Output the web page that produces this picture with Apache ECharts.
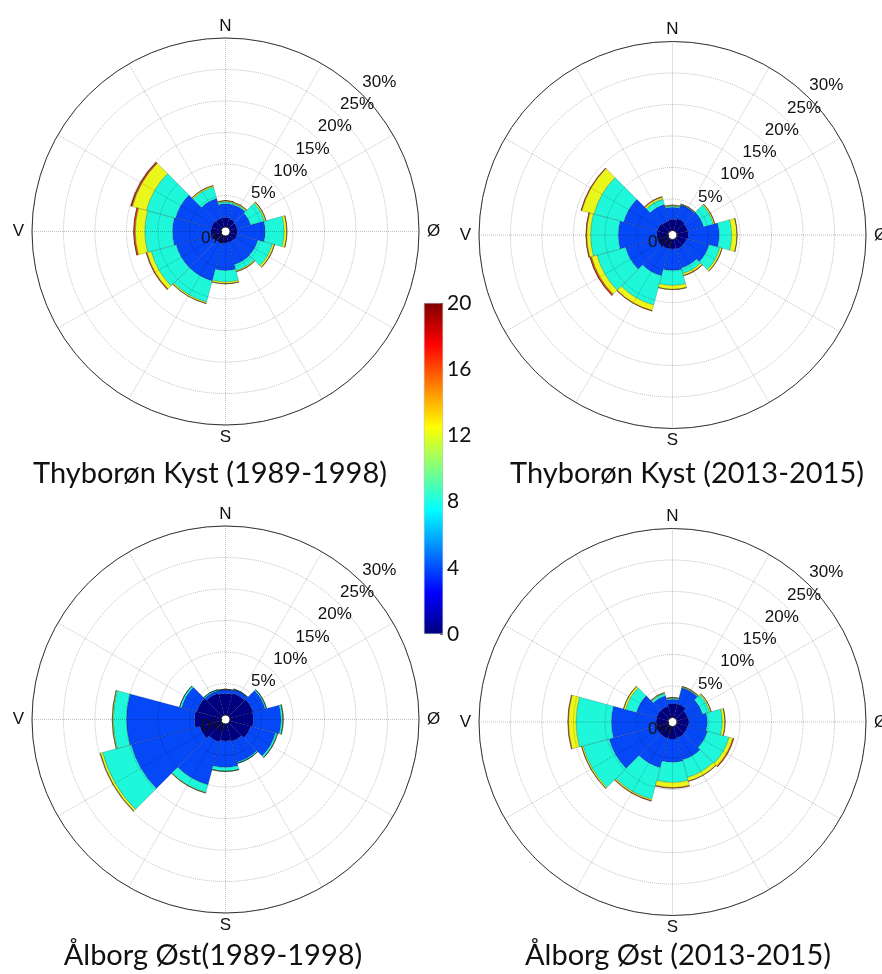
<!DOCTYPE html>
<html><head><meta charset="utf-8">
<script src="https://cdn.jsdelivr.net/npm/echarts@6/dist/echarts.min.js"></script>
<style>html,body{margin:0;padding:0;background:#fff}#c{width:882px;height:974px}</style>
</head><body><div id="c"></div>
<script>
// ---------- categories / ticks ----------
const directions = ['N','NNØ','ØNØ','Ø','ØSØ','SSØ','S','SSV','VSV','V','VNV','NNV'];
const speedBins = ['0-4','4-8','8-12','12-16','16-20','>20'];
const radiusTicks = [0,5,10,15,20,25,30];
const colorbarTicks = [0,4,8,12,16,20];
const compassValues = [0,90,180,270];
const compassNames = ['N','Ø','S','V'];
const titles = ['Thyborøn Kyst (1989-1998)','Thyborøn Kyst (2013-2015)','Ålborg Øst(1989-1998)','Ålborg Øst (2013-2015)'];

// ---------- Thyborøn Kyst (1989-1998): % per speed bin, per direction ----------
const thyOld_0_4   = [1.5,1.4,1.2,1.2,1.2,1.1,1.1,1.3,1.5,1.6,1.6,1.5];
const thyOld_4_8   = [2.2,2.3,2.2,4.4,3.4,3.6,4.4,6.1,5.9,6.1,5.9,3.2];
const thyOld_8_12  = [0.3,0.2,2.3,3.0,2.4,1.0,1.8,3.5,4.1,4.4,4.8,1.9];
const thyOld_12_16 = [0.15,0.15,0.2,0.4,0.3,0.15,0.25,0.2,0.7,1.5,2.3,0.2];
const thyOld_16_20 = [0.05,0.05,0.05,0.05,0.05,0.05,0.05,0.05,0.1,0.2,0.15,0.05];
const thyOld_20p   = [0,0,0,0,0,0,0,0,0.05,0.1,0.15,0];

// ---------- Thyborøn Kyst (2013-2015) ----------
const thyNew_0_4   = [1.8,2.0,1.8,1.8,1.6,1.6,1.5,1.6,1.8,1.8,1.8,1.6];
const thyNew_4_8   = [1.9,2.2,2.6,4.9,3.7,3.1,3.4,4.4,5.2,6.1,5.5,2.7];
const thyNew_8_12  = [0.2,0.1,1.6,2.0,1.8,0.9,2.4,4.8,4.7,4.4,4.9,0.9];
const thyNew_12_16 = [0.1,0.05,0.2,0.8,0.3,0.3,0.6,0.9,0.9,0.6,2.0,0.3];
const thyNew_16_20 = [0.05,0.05,0.05,0.05,0.05,0.1,0.05,0.1,0.2,0.1,0.1,0.1];
const thyNew_20p   = [0,0,0,0,0,0,0,0,0.1,0.05,0.05,0];

// ---------- Ålborg Øst (1989-1998) ----------
const aalOld_0_4   = [3.4,3.6,3.8,3.7,3.4,2.9,2.7,3.0,3.5,4.2,4.0,3.6];
const aalOld_4_8   = [0.6,0.6,2.0,4.4,4.1,3.4,4.2,7.0,11.3,10.8,2.5,0.4];
const aalOld_8_12  = [0.1,0.1,0.2,0.3,0.3,0.2,0.6,1.3,4.7,2.1,0.3,0.2];
const aalOld_12_16 = [0,0,0.03,0.05,0.05,0,0.03,0.08,0.35,0.15,0.03,0];
const aalOld_16_20 = [0,0,0,0,0,0,0,0,0.05,0,0,0];
const aalOld_20p   = [0,0,0,0,0,0,0,0,0,0,0,0];

// ---------- Ålborg Øst (2013-2015) ----------
const aalNew_0_4   = [2.2,2.3,1.8,1.9,1.8,1.9,2.0,2.0,2.0,1.9,1.9,1.9];
const aalNew_4_8   = [0.7,2.6,2.4,2.9,3.2,3.6,3.7,4.8,7.7,7.1,3.3,1.7];
const aalNew_8_12  = [0.2,0.1,1.2,2.4,3.6,2.9,3.2,5.2,4.3,5.6,1.8,0.4];
const aalNew_12_16 = [0.05,0.1,0.2,0.4,0.6,0.6,0.8,0.2,0.2,1.2,0.3,0.1];
const aalNew_16_20 = [0.05,0.05,0.05,0.05,0.15,0.05,0.1,0.1,0.05,0.1,0.05,0.05];
const aalNew_20p   = [0,0,0,0,0.03,0,0,0,0,0,0,0];

const roseBins = [
  [thyOld_0_4,thyOld_4_8,thyOld_8_12,thyOld_12_16,thyOld_16_20,thyOld_20p],
  [thyNew_0_4,thyNew_4_8,thyNew_8_12,thyNew_12_16,thyNew_16_20,thyNew_20p],
  [aalOld_0_4,aalOld_4_8,aalOld_8_12,aalOld_12_16,aalOld_16_20,aalOld_20p],
  [aalNew_0_4,aalNew_4_8,aalNew_8_12,aalNew_12_16,aalNew_16_20,aalNew_20p]
];

// ---------- layout & style ----------
const binColors = ['#000082','#0548F8','#1EF7DA','#EAF71A','#F55A0A','#8C0A0A'];
const centers = [[225.5,231.5],[672.5,235],[225.5,719.5],[672.5,722]];
const titlePos = [[205,454],[682,454],[208,936],[673,936]];
const R = [4.5,193.5];
const jetStops = [
  {offset:0,color:'#00007F'},{offset:0.125,color:'#0000FF'},{offset:0.375,color:'#00FFFF'},
  {offset:0.625,color:'#FFFF00'},{offset:0.875,color:'#FF0000'},{offset:1,color:'#7F0000'}
];
const compassRich = {
  ns:{fontSize:17, color:'#111', fontFamily:'Liberation Sans', lineHeight:8},
  side:{fontSize:17, color:'#111', fontFamily:'Liberation Sans'}
};
const compassStyle = ['ns','side','ns','side'];

const polar=[], angleAxis=[], radiusAxis=[], series=[], title=[];
const gridLine = {show:true, lineStyle:{color:'rgba(0,0,0,0.25)', type:'dotted', width:1}};

roseBins.forEach((bins,i)=>{
  const c = centers[i];
  // bars
  const pb = polar.length;
  polar.push({center:c, radius:R});
  angleAxis.push({polarIndex:pb, type:'category', data:directions, startAngle:105, clockwise:true,
    boundaryGap:true, axisLine:{show:false}, axisTick:{show:false}, axisLabel:{show:false}, splitLine:{show:false}});
  radiusAxis.push({polarIndex:pb, type:'value', min:0, max:30, interval:5,
    axisLine:{show:false}, axisTick:{show:false}, axisLabel:{show:false}, splitLine:{show:false}});
  bins.forEach((vals,k)=>{
    series.push({type:'bar', coordinateSystem:'polar', polarIndex:pb, stack:'rose'+i, name:speedBins[k],
      data:vals, barCategoryGap:'0%', silent:true, animation:false,
      itemStyle:{color:binColors[k], borderColor:'rgba(0,0,0,0.35)', borderWidth:0.5}});
  });
  // grid + compass
  const pg = polar.length;
  polar.push({center:c, radius:R});
  angleAxis.push({polarIndex:pg, type:'value', min:0, max:360, interval:30, startAngle:90, clockwise:true, zlevel:1, z:5,
    axisLine:{show:true, lineStyle:{color:'#333', width:1}}, axisTick:{show:false},
    axisLabel:{show:true, margin:8, fontSize:17, color:'#111', fontFamily:'Liberation Sans',
      rich:compassRich,
      formatter: v => { const j = compassValues.indexOf(v); return j>=0 ? '{'+compassStyle[j]+'|'+compassNames[j]+'}' : ''; }},
    splitLine:gridLine});
  radiusAxis.push({polarIndex:pg, type:'value', min:0, max:30, interval:5, zlevel:1, z:5,
    axisLine:{show:false}, axisTick:{show:false},
    axisLabel:{show:true, margin:0, fontSize:17, color:'#111', fontFamily:'Liberation Sans',
      align:'right', verticalAlign:'top', padding:[3,0,0,0],
      formatter: v => v===radiusTicks[0] ? v+'%' : ''},
    splitLine:gridLine});
  // percent labels along 45°
  const pl = polar.length;
  polar.push({center:c, radius:R});
  angleAxis.push({polarIndex:pl, type:'value', min:0, max:360, startAngle:45, show:false});
  radiusAxis.push({polarIndex:pl, type:'value', min:0, max:30, interval:5, zlevel:1, z:6,
    axisLine:{show:false}, axisTick:{show:false}, splitLine:{show:false},
    axisLabel:{show:true, margin:0, fontSize:17, color:'#111', fontFamily:'Liberation Sans',
      align:'left', verticalAlign:'bottom', padding:[0,0,4,0],
      formatter: v => v===radiusTicks[0] ? '' : v+'%'}});
  title.push({text:titles[i], left:titlePos[i][0], top:titlePos[i][1], textAlign:'center',
    textStyle:{fontFamily:'Lato', fontWeight:'normal', fontSize:29, color:'#111'}});
});

const option = {
  animation:false,
  backgroundColor:'#fff',
  title, polar, angleAxis, radiusAxis,
  grid:[{left:424, top:303, width:19, height:331}],
  xAxis:[{gridIndex:0, type:'category', data:[''], show:false}],
  yAxis:[{gridIndex:0, type:'value', position:'right', min:colorbarTicks[0], max:colorbarTicks[colorbarTicks.length-1], interval:4,
    axisLine:{show:false}, splitLine:{show:false},
    axisTick:{show:true, inside:true, length:3, lineStyle:{color:'#666'}},
    axisLabel:{margin:4, fontSize:21, color:'#111', fontFamily:'Lato'}}],
  series: series.concat([{type:'bar', xAxisIndex:0, yAxisIndex:0, data:[colorbarTicks[colorbarTicks.length-1]],
    barWidth:'100%', silent:true, z:1,
    itemStyle:{borderColor:'#aaa', borderWidth:0.5,
      color:{type:'linear', x:0, y:1, x2:0, y2:0, colorStops:jetStops}}}])
};
const chart = echarts.init(document.getElementById('c'));
chart.setOption(option);
</script></body></html>
